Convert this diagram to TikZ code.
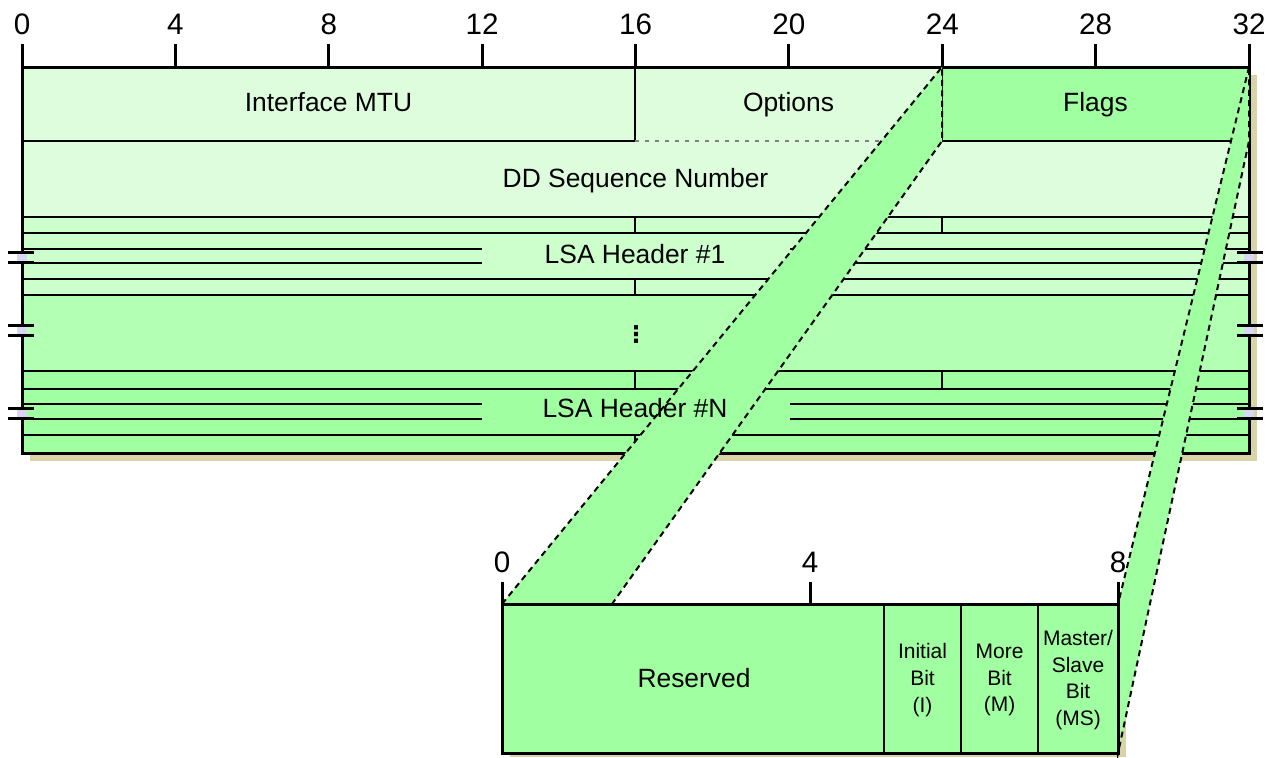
\documentclass[tikz,border=0pt]{standalone}
\usepackage{fontspec}
\setmainfont{Liberation Sans}
\newfontfamily\symfont{DejaVu Sans}
\definecolor{pale-green}{HTML}{DDFDDD}
\definecolor{lsa-green}{HTML}{CCFFCC}
\definecolor{mid-green}{HTML}{B3FFB3}
\definecolor{flag-green}{HTML}{A0FFA0}
\definecolor{shadow-tan}{HTML}{D8D4A8}
\definecolor{gap-lilac}{HTML}{D8D8F4}

\begin{document}
\begin{tikzpicture}[x=0.5pt, y=-0.5pt,
    every node/.style={inner sep=0pt, outer sep=0pt},
    fieldtxt/.style={font=\fontsize{13.2}{15}\selectfont, text height=0.716em, text depth=0pt},
    bitnum/.style={font=\fontsize{14.8}{16}\selectfont, text height=0.716em, text depth=0pt},
    bittxt/.style={font=\fontsize{10.5}{13.3}\selectfont, align=center},
    gridline/.style={line width=0.65pt},
    boxline/.style={line width=1.5pt},
    zoomband/.style={line width=1pt, dash pattern=on 3pt off 2.2pt}]
  \useasboundingbox (0,0) rectangle (1278,757);

  % shadows
  \fill[shadow-tan] (30,75) rectangle (1257,461);
  \fill[shadow-tan] (510,612) rectangle (1126,757);

  % fields of the packet
  \fill[pale-green] (22,67) rectangle (942,217);
  \fill[flag-green] (942,67) rectangle (1249,141);
  \fill[pale-green] (942,141) rectangle (1249,217);
  \fill[lsa-green] (22,217) rectangle (1249,295);
  \fill[mid-green] (22,295) rectangle (1249,371);
  \fill[flag-green] (22,371) rectangle (1249,453);

  \draw[gridline] (22,141) -- (635,141) (942,141) -- (1249,141)
    (635,67) -- (635,141) (942,67) -- (942,141);
  \draw[gridline, gray, dash pattern=on 2pt off 3pt] (635,141) -- (942,141);
  \foreach \a/\b/\c/\d/\e/\f in {217/233/249/263/279/295, 371/389/404/419/435/453} {
    \draw[gridline] (22,\a) -- (1249,\a) (22,\b) -- (1249,\b) (22,\e) -- (1249,\e)
      (22,\f) -- (1249,\f)
      (22,\c) -- (482,\c) (790,\c) -- (1249,\c) (22,\d) -- (482,\d) (790,\d) -- (1249,\d)
      (635,\a) -- (635,\b) (942,\a) -- (942,\b) (635,\e) -- (635,\f);
  }
  \draw[boxline] (22,67) rectangle (1249,453);

  % break marks
  \foreach \y in {252,325,408} {
    \fill[gap-lilac] (17,\y) rectangle (27,\y+10);
    \fill[gap-lilac] (1244,\y) rectangle (1254,\y+10);
    \draw[boxline] (8,\y) -- (34,\y) (8,\y+10) -- (34,\y+10)
      (1237,\y) -- (1263,\y) (1237,\y+10) -- (1263,\y+10);
  }

  % bit ruler
  \foreach \b in {0,4,...,32} {
    \draw[boxline] ({22+38.344*\b},44) -- ({22+38.344*\b},67);
    \node[bitnum] (top\b) at ({22+38.344*\b},27) {\b};
  }

  % zoom of the flags
  \coordinate (flagNW) at (942,67);
  \coordinate (flagSW) at (942,141);
  \coordinate (flagNE) at (1249,67);
  \coordinate (flagSE) at (1249,141);
  \coordinate (bitsNW) at (502,604);
  \coordinate (bitsN) at (612,604);
  \coordinate (bitsNE) at (1118,604);
  \coordinate (bitsSE) at (1118,753);
  \fill[flag-green] (flagNW) -- (flagSW) -- (bitsN) -- (bitsNW) -- cycle;
  \fill[flag-green] (flagNE) -- (flagSE) -- (bitsSE) -- (bitsNE) -- cycle;

  \fill[flag-green] (502,604) rectangle (1118,753);
  \draw[gridline] (884,604) -- (884,753) (961,604) -- (961,753) (1038,604) -- (1038,753);
  \draw[boxline] (502,604) rectangle (1118,753);
  \foreach \b in {0,4,8} {
    \draw[boxline] ({502+77*\b},582) -- ({502+77*\b},604);
    \node[bitnum] (low\b) at ({502+77*\b},565) {\b};
  }

  \node[fieldtxt] (mtu) at (328.5,104) {Interface MTU};
  \node[fieldtxt] (opts) at (788.5,104) {Options};
  \node[fieldtxt] (flags) at (1095.5,104) {Flags};
  \node[fieldtxt] (seqnum) at (635.5,180) {DD Sequence Number};
  \node[fieldtxt] (lsa1) at (635,256.5) {LSA Header \#1};
  \node[font=\symfont\bfseries\fontsize{11.5}{12}\selectfont] (more) at (636,334) {⋮};
  \node[fieldtxt] (lsaN) at (635,410.5) {LSA Header \#N};
  \node[fieldtxt] (rsvd) at (694,680) {Reserved};
  \node[bittxt] (ibit) at (922.5,680) {Initial\\Bit\\(I)};
  \node[bittxt] (mbit) at (999.5,680) {More\\Bit\\(M)};
  \node[bittxt] (msbit) at (1078,680) {Master/\\Slave\\Bit\\(MS)};

  \draw[zoomband] (bitsNW) -- (flagNW) -- (flagSW) -- (bitsN);
  \draw[zoomband] (flagNE) -- (bitsNE) -- (bitsSE) -- (flagSE) -- cycle;
\end{tikzpicture}
\end{document}
